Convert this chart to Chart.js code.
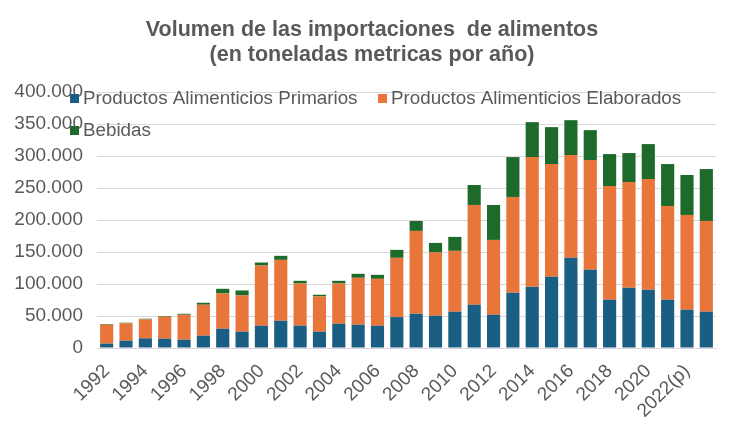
<!DOCTYPE html>
<html>
<head>
<meta charset="utf-8">
<script src="https://cdn.jsdelivr.net/npm/chart.js@4.4.1/dist/chart.umd.min.js"></script>
<style>
  html, body { margin: 0; padding: 0; background: #ffffff; }
  #wrap { width: 743px; height: 442px; position: relative; }
</style>
</head>
<body>
<div id="wrap"><canvas id="c" width="743" height="442"></canvas></div>
<script>
// ---- Data (tonnes per year) ----
const years = ["1992","1993","1994","1995","1996","1997","1998","1999","2000","2001",
  "2002","2003","2004","2005","2006","2007","2008","2009","2010","2011",
  "2012","2013","2014","2015","2016","2017","2018","2019","2020","2021",
  "2022(p)","2023(p)"];

const primarios = [6800, 11400, 15100, 14600, 13000, 19200, 30100, 25500, 34800, 42600,
  34800, 25500, 37900, 36400, 34800, 48300, 53500, 50400, 56700, 67600,
  52000, 86300, 95600, 111200, 140900, 122100, 75400, 94100, 91000, 75400,
  59800, 56700];

const elaborados = [29600, 27100, 29600, 34300, 39000, 48400, 55100, 56600, 94100, 95100,
  66000, 55100, 62900, 73300, 73300, 92600, 129500, 98800, 95100, 155900,
  116900, 149700, 202700, 176200, 160600, 171600, 177700, 165300, 173000, 146500,
  148100, 141800];

const bebidas = [1000, 1000, 1000, 1000, 1500, 3100, 7300, 7800, 4700, 6300,
  4200, 2600, 4200, 6200, 6200, 12400, 15500, 15000, 21800, 31200,
  54600, 62300, 54600, 57700, 54500, 46700, 49900, 45200, 54600, 65500,
  62400, 81100];

const seriesNames = ["Productos Alimenticios Primarios", "Productos Alimenticios Elaborados", "Bebidas"];
const titleLines = ["Volumen de las importaciones  de alimentos", "(en toneladas metricas por año)"];
const yTicks = { min: 0, max: 400000, step: 50000 };

const colors = ["#1b5e84", "#e8763a", "#1e6a2b"];
const textColor = "#595959";
const FONT = "'Liberation Sans', Arial, sans-serif";

Chart.defaults.font.family = FONT;
Chart.defaults.color = textColor;

function fmt(v) {
  return String(Math.round(v)).replace(/\B(?=(\d{3})+(?!\d))/g, ".");
}

// Title drawn centred on the page, as in the reference
const titlePlugin = {
  id: 'pageTitle',
  afterDraw(chart) {
    const ctx = chart.ctx;
    ctx.save();
    ctx.font = "bold 21.5px " + FONT;
    ctx.fillStyle = textColor;
    ctx.textAlign = "center";
    ctx.textBaseline = "middle";
    titleLines.forEach((t, k) => ctx.fillText(t, 372, 30 + k * 25));
    ctx.restore();
  }
};

// Custom legend drawn inside the plot, as in the reference
const legendPlugin = {
  id: 'insideLegend',
  afterDraw(chart) {
    const ctx = chart.ctx;
    const items = [
      { i: 0, x: 70, y: 99 },
      { i: 1, x: 378, y: 99 },
      { i: 2, x: 70, y: 131 }
    ];
    ctx.save();
    ctx.font = "18.8px " + FONT;
    ctx.textBaseline = "middle";
    ctx.textAlign = "left";
    items.forEach(it => {
      const ds = chart.data.datasets[it.i];
      ctx.fillStyle = ds.backgroundColor;
      ctx.fillRect(it.x, it.y - 5, 9, 9);
      ctx.fillStyle = textColor;
      ctx.fillText(ds.label, it.x + 13, it.y);
    });
    ctx.restore();
  }
};

new Chart(document.getElementById('c'), {
  type: 'bar',
  data: {
    labels: years,
    datasets: [
      { label: seriesNames[0], data: primarios, backgroundColor: colors[0] },
      { label: seriesNames[1], data: elaborados, backgroundColor: colors[1] },
      { label: seriesNames[2], data: bebidas, backgroundColor: colors[2] }
    ]
  },
  options: {
    responsive: false,
    animation: false,
    devicePixelRatio: 1,
    layout: { padding: { left: 0, right: 27, top: 92, bottom: 0 } },
    datasets: { bar: { categoryPercentage: 1.0, barPercentage: 0.68 } },
    plugins: {
      legend: { display: false },
      tooltip: { enabled: false },
      title: { display: false }
    },
    scales: {
      x: {
        stacked: true,
        grid: { display: false, drawTicks: false },
        border: { display: true, color: '#d9d9d9', width: 1 },
        ticks: {
          autoSkip: false,
          maxRotation: 45,
          minRotation: 45,
          padding: 12,
          color: textColor,
          font: { size: 19 },
          callback: function(v, i) { return i % 2 === 0 ? years[i] : ''; }
        },
        afterFit(scale) { scale.height = 94; }
      },
      y: {
        stacked: true,
        min: yTicks.min,
        max: yTicks.max,
        grid: { color: '#d9d9d9', lineWidth: 1, drawTicks: false },
        border: { display: false },
        ticks: {
          stepSize: yTicks.step,
          padding: 14,
          color: textColor,
          font: { size: 19 },
          callback: v => fmt(v)
        },
        afterFit(scale) { scale.width = 97; }
      }
    }
  },
  plugins: [titlePlugin, legendPlugin]
});
</script>
</body>
</html>
